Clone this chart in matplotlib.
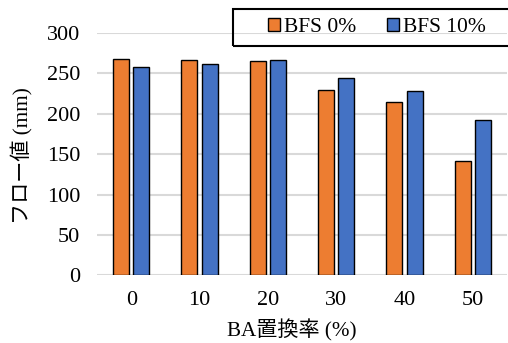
import numpy as np
import matplotlib.pyplot as plt
from matplotlib.patches import Rectangle

plt.rcParams['font.family'] = ['Liberation Serif', 'Noto Sans CJK JP']

# BA replacement ratio (%) and flow values (mm)
ba_ratio = ['0', '10', '20', '30', '40', '50']
flow_bfs0 = [268, 267, 265, 229, 214, 142]
flow_bfs10 = [258, 261, 267, 244, 228, 192]

fig = plt.figure(figsize=(5.08, 3.43), dpi=100)
ax = fig.add_axes([0.191, 0.197, 0.807, 0.707])

x = np.arange(len(ba_ratio))
w = 0.235
gap = 0.06
ax.bar(x - (w + gap) / 2, flow_bfs0, w, color='#ED7D31', edgecolor='black',
       linewidth=1.0, label='BFS 0%', zorder=3)
ax.bar(x + (w + gap) / 2, flow_bfs10, w, color='#4472C4', edgecolor='black',
       linewidth=1.0, label='BFS 10%', zorder=3)

ax.set_xlim(-0.5, len(ba_ratio) - 0.5)
ax.set_ylim(0, 300)
ax.set_yticks(range(0, 301, 50))
ax.set_xticks(x)
ax.set_xticklabels(ba_ratio)
ax.yaxis.grid(True, color='#d9d9d9', linewidth=1.5, zorder=0)
ax.set_axisbelow(True)
for s in ax.spines.values():
    s.set_visible(False)
ax.tick_params(axis='y', length=0, labelsize=16, pad=12)
ax.tick_params(axis='x', length=0, labelsize=16, pad=11)

# axis titles
fig.text(292 / 508, 1 - 330 / 343, 'BA置換率 (%)', fontsize=15.2,
         ha='center', va='center')
fig.text(22 / 508, 1 - 156 / 343, 'フロー値 (mm)', fontsize=15.2,
         ha='center', va='center', rotation=90)

# legend with a wide box running off the right edge
leg = fig.legend(loc='center', bbox_to_anchor=(377 / 508, 1 - 27.7 / 343), ncol=2,
                 fontsize=15.5, frameon=False,
                 handlelength=0.55, handleheight=0.55, handletextpad=0.2,
                 columnspacing=1.45, borderpad=0, borderaxespad=0)
for h in leg.legend_handles:
    h.set_linewidth(1.0)
fig.patches.append(Rectangle((233 / 508, 1 - 46 / 343), 0.6, 36.7 / 343,
                             transform=fig.transFigure, fill=False,
                             edgecolor='black', linewidth=1.5))

fig.savefig('out.png', dpi=100)
